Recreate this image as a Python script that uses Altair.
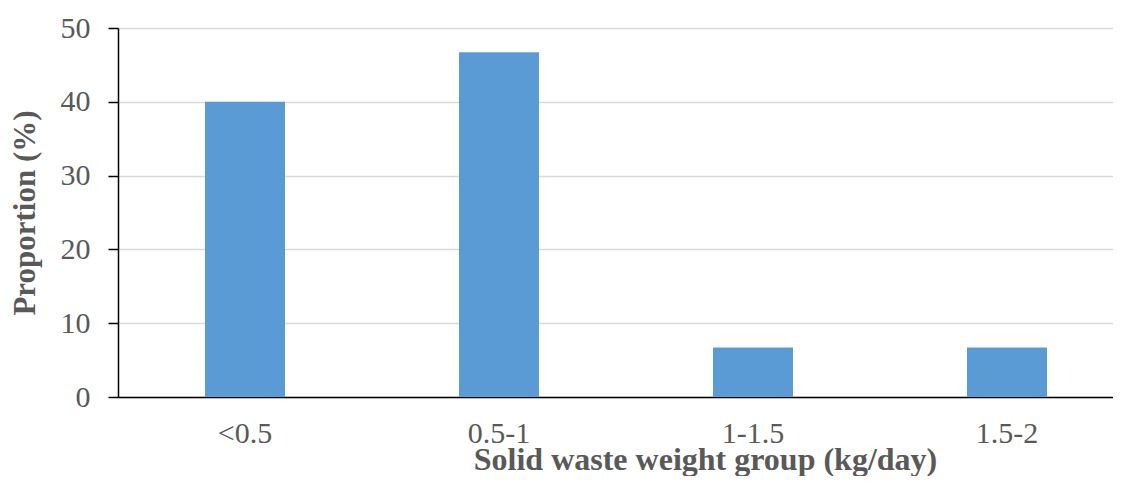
import altair as alt
import pandas as pd

categories = ["<0.5", "0.5-1", "1-1.5", "1.5-2"]
proportions = [40.0, 46.7, 6.7, 6.7]
y_ticks = [0, 10, 20, 30, 40, 50]

df = pd.DataFrame({"group": categories, "value": proportions})

FONT = "Liberation Serif"
GRAY = "#595959"

chart = alt.Chart(df).mark_bar(color="#5B9BD5").encode(
    x=alt.X("group:N", sort=categories,
            scale=alt.Scale(paddingInner=0.685, paddingOuter=0.3425, range=[0, 1016]),
            axis=alt.Axis(title="Solid waste weight group (kg/day)", labelAngle=0,
                          ticks=False, domainColor="#000000", domainWidth=1.5,
                          labelFont=FONT, labelFontSize=30, labelColor=GRAY,
                          labelPadding=21, labelOverlap=False,
                          titleFont=FONT, titleFontSize=32, titleFontWeight="bold",
                          titleColor=GRAY, titleBaseline="alphabetic",
                          titleAlign="center", titleX=587, titleY=72)),
    y=alt.Y("value:Q", scale=alt.Scale(domain=[0, 50]),
            axis=alt.Axis(title="Proportion (%)", values=y_ticks,
                          ticks=True, labelOverlap=False,
                          domainColor="#000000", domainWidth=1.5,
                          tickColor="#000000", tickSize=10, tickWidth=1.5,
                          gridColor="#d9d9d9", gridWidth=1.5,
                          labelFont=FONT, labelFontSize=30, labelColor=GRAY,
                          labelPadding=18,
                          titleFont=FONT, titleFontSize=31, titleFontWeight="bold",
                          titleColor=GRAY, titlePadding=19)),
).properties(
    width=995, height=369,
    autosize=alt.AutoSizeParams(type="none"),
    padding={"left": 110, "top": 20, "right": 0, "bottom": 79},
).configure_view(stroke=None)

chart.save("out.html", embed_options={"renderer": "svg", "actions": False})
